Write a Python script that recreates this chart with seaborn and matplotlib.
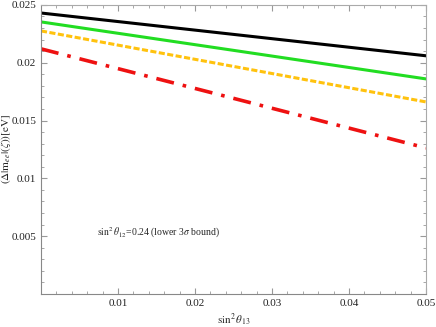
import matplotlib
matplotlib.use("Agg")
import matplotlib.pyplot as plt
import seaborn as sns
import pandas as pd
from matplotlib.ticker import MultipleLocator

# values
sin2_theta13 = [0.0, 0.025, 0.05]
curve_black = [0.0243, 0.02245, 0.0206]
curve_green = [0.02353, 0.02107, 0.0186]
curve_orange = [0.02275, 0.01968, 0.01661]
curve_red = [0.0212, 0.01692, 0.01263]

series_names = ["black", "green", "orange", "red"]
series_values = [curve_black, curve_green, curve_orange, curve_red]

rows = []
for name, vals in zip(series_names, series_values):
    for x, y in zip(sin2_theta13, vals):
        rows.append({"x": x, "y": y, "curve": name})
df = pd.DataFrame(rows)

sns.set_style("ticks")
plt.rcParams["font.family"] = ["Liberation Serif", "DejaVu Serif"]
plt.rcParams["mathtext.fontset"] = "stix"

fig = plt.figure(figsize=(4.36, 3.27), dpi=100)
ax = fig.add_axes([0.094, 0.101, 0.883, 0.884])

palette = {"black": "#000000", "green": "#22dd22", "orange": "#ffc20e", "red": "#ee1111"}
styles = {"black": (None, 2.2), "green": (None, 2.2), "orange": ((0, (2.0, 0.8)), 2.2),
          "red": ((0, (5, 2.5, 1.0, 2.5)), 2.6)}

for name in series_names:
    sub = df[df["curve"] == name]
    ls, lw = styles[name]
    sns.lineplot(data=sub, x="x", y="y", color=palette[name], lw=lw, ax=ax)
    if ls is not None:
        ax.lines[-1].set_linestyle(ls)

ax.set_xlim(0, 0.05)
ax.set_ylim(0, 0.025)
ax.set_xticks([0.01, 0.02, 0.03, 0.04, 0.05])
ax.set_xticklabels(["0.01", "0.02", "0.03", "0.04", "0.05"])
ax.set_yticks([0.005, 0.01, 0.015, 0.02, 0.025])
ax.set_yticklabels(["0.005", "0.01", "0.015", "0.02", "0.025"])
ax.xaxis.set_minor_locator(MultipleLocator(0.002))
ax.yaxis.set_minor_locator(MultipleLocator(0.001))
ax.tick_params(which="both", direction="in", top=True, right=True, color="#999999",
               labelsize=8, labelcolor="#222222")
ax.tick_params(which="major", length=4, width=0.8)
ax.tick_params(which="minor", length=2, width=0.6)
for side in ["left", "bottom"]:
    ax.spines[side].set_color("#888888")
for side in ["top", "right"]:
    ax.spines[side].set_color("#aaaaaa")

ax.set_xlabel(r"$\sin^2\theta_{13}$", fontsize=8)
ax.xaxis.set_label_coords(0.458, -0.06)
ax.xaxis.label.set_horizontalalignment("left")
ax.set_ylabel(r"$(\Delta|\mathrm{m}_{ee}|(\zeta))[\mathrm{eV}]$", fontsize=8)
ax.yaxis.set_label_coords(-0.072, 0.5)

ax.text(0.0073, 0.0053, r"$\sin^2\theta_{12}$=0.24 (lower 3$\sigma$ bound)",
        fontsize=7, va="center", ha="left")

fig.savefig("out.png", dpi=100)
